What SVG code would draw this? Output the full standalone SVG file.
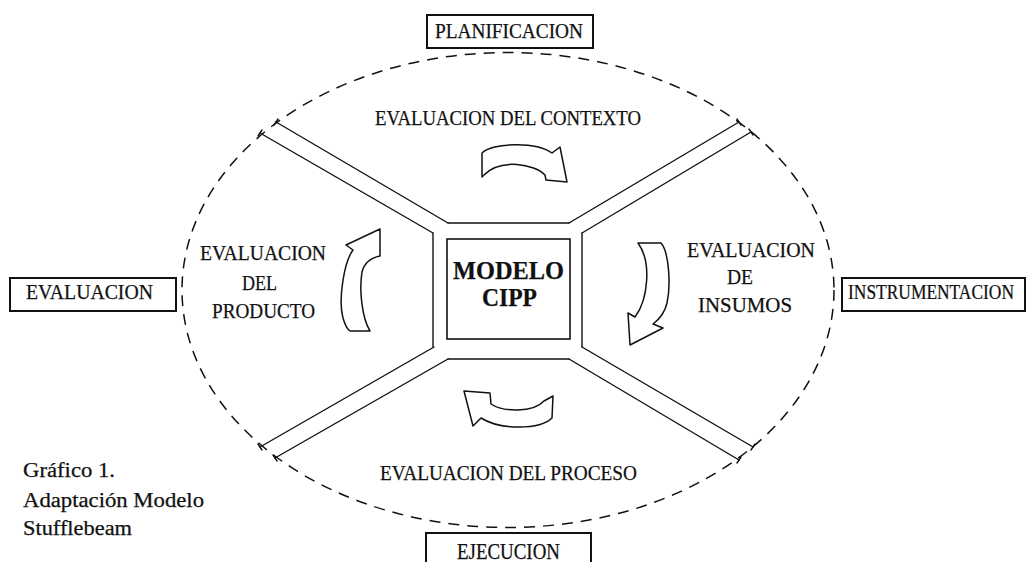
<svg xmlns="http://www.w3.org/2000/svg" width="1027" height="562" viewBox="0 0 1027 562">
<style>
.t{font-family:"Liberation Serif","Times New Roman",serif;fill:#111;stroke:#111;stroke-width:0.25;}
.b{font-weight:bold;}
.box{fill:#fff;stroke:#111;stroke-width:2;}
.ln{fill:none;stroke:#111;stroke-width:1.4;stroke-linecap:round;stroke-linejoin:round;}
.arr{fill:#fff;stroke:#111;stroke-width:1.5;stroke-linejoin:round;}
.ell{fill:none;stroke:#111;stroke-width:1.5;stroke-dasharray:11 8;}
</style>
<rect width="1027" height="562" fill="#fff"/>
<g id="connectors">
  <ellipse class="ell" cx="508" cy="290" rx="326" ry="237.5"/>
  <path class="ln" d="M448,223 L276,122"/>
  <path class="ln" d="M433,233 L260,133"/>
  <path class="ln" d="M569,223 L739,122"/>
  <path class="ln" d="M582,233 L751,132"/>
  <path class="ln" d="M434,347 L260,447"/>
  <path class="ln" d="M448,359 L275,458"/>
  <path class="ln" d="M569,359 L739,460"/>
  <path class="ln" d="M582,347 L753,447"/>
  <path class="ln" d="M448,223 L569,223"/>
  <path class="ln" d="M448,359 L569,359"/>
  <path class="ln" d="M433,233 L433,347"/>
  <path class="ln" d="M582,233 L582,347"/>
  <path class="ln" d="M274,125 L278,119 M258,136 L262,130 M737,119 L741,125 M749,129 L753,135 M258,444 L262,450 M273,455 L277,461 M737,463 L741,457 M751,450 L755,444"/>
</g>
<g id="node-planificacion">
  <rect class="box" x="427" y="15" width="166" height="33"/>
  <text class="t" x="435" y="38" font-size="20" textLength="148" lengthAdjust="spacingAndGlyphs">PLANIFICACION</text>
</g>
<g id="node-evaluacion">
  <rect class="box" x="10" y="278" width="166" height="33"/>
  <text class="t" x="26" y="299" font-size="21" textLength="127" lengthAdjust="spacingAndGlyphs">EVALUACION</text>
</g>
<g id="node-instrumentacion">
  <rect class="box" x="842" y="278" width="183" height="33"/>
  <text class="t" transform="translate(848,299) scale(0.83,1)" x="0" y="0" font-size="21">INSTRUMENTACION</text>
</g>
<g id="node-ejecucion">
  <rect class="box" x="426" y="533" width="165" height="40"/>
  <text class="t" x="457" y="559" font-size="23" textLength="103" lengthAdjust="spacingAndGlyphs">EJECUCION</text>
</g>
<g id="node-modelo-cipp">
  <rect x="447" y="239" width="123" height="100" fill="#fff" stroke="#111" stroke-width="1.6"/>
  <text class="t b" x="453" y="279" font-size="25" textLength="111" lengthAdjust="spacingAndGlyphs">MODELO</text>
  <text class="t b" x="482" y="306" font-size="26" textLength="55" lengthAdjust="spacingAndGlyphs">CIPP</text>
</g>
<g id="node-contexto">
  <text class="t" x="375" y="125" font-size="22" textLength="266" lengthAdjust="spacingAndGlyphs">EVALUACION DEL CONTEXTO</text>
  <path class="arr" d="M482,177 L482,153 C492,143 535,141 552,153 L560,147 L567,182 L546,180 L545,175 C535,164 500,158 484,175 Z"/>
</g>
<g id="node-insumos">
  <text class="t" x="687" y="257" font-size="21" textLength="128" lengthAdjust="spacingAndGlyphs">EVALUACION</text>
  <text class="t" x="727" y="284" font-size="21" textLength="26" lengthAdjust="spacingAndGlyphs">DE</text>
  <text class="t" x="698" y="312" font-size="21" textLength="94" lengthAdjust="spacingAndGlyphs">INSUMOS</text>
  <path class="arr" d="M638,243 L661,243 C669,252 671,285 667,303 C665,312 661,318 653,324 L663,328 L630,345 L628,313 L635,317 C648,300 652,262 638,243 Z"/>
</g>
<g id="node-proceso">
  <text class="t" x="380" y="480" font-size="20" textLength="257" lengthAdjust="spacingAndGlyphs">EVALUACION DEL PROCESO</text>
  <path class="arr" d="M464,391 L490,393 L491,404 C503,412 533,413 544,401 L553,396 L552,418 C540,430 500,430 481,418 L473,426 Z"/>
</g>
<g id="node-producto">
  <text class="t" x="200" y="260" font-size="21" textLength="126" lengthAdjust="spacingAndGlyphs">EVALUACION</text>
  <text class="t" x="242" y="290" font-size="21" textLength="35" lengthAdjust="spacingAndGlyphs">DEL</text>
  <text class="t" x="212" y="318" font-size="21" textLength="103" lengthAdjust="spacingAndGlyphs">PRODUCTO</text>
  <path class="arr" d="M380,229 L346,245 L353,250 C344,262 338,300 343,318 C345,325 347,329 350,331 L370,331 C362,318 359,290 362,272 C364,264 370,258 380,256 Z"/>
</g>
<g id="caption">
  <text class="t" x="23" y="477" font-size="20" textLength="92" lengthAdjust="spacingAndGlyphs">Gráfico  1.</text>
  <text class="t" x="23" y="507" font-size="20" textLength="181" lengthAdjust="spacingAndGlyphs">Adaptación Modelo</text>
  <text class="t" x="23" y="535" font-size="20" textLength="109" lengthAdjust="spacingAndGlyphs">Stufflebeam</text>
</g>
</svg>
